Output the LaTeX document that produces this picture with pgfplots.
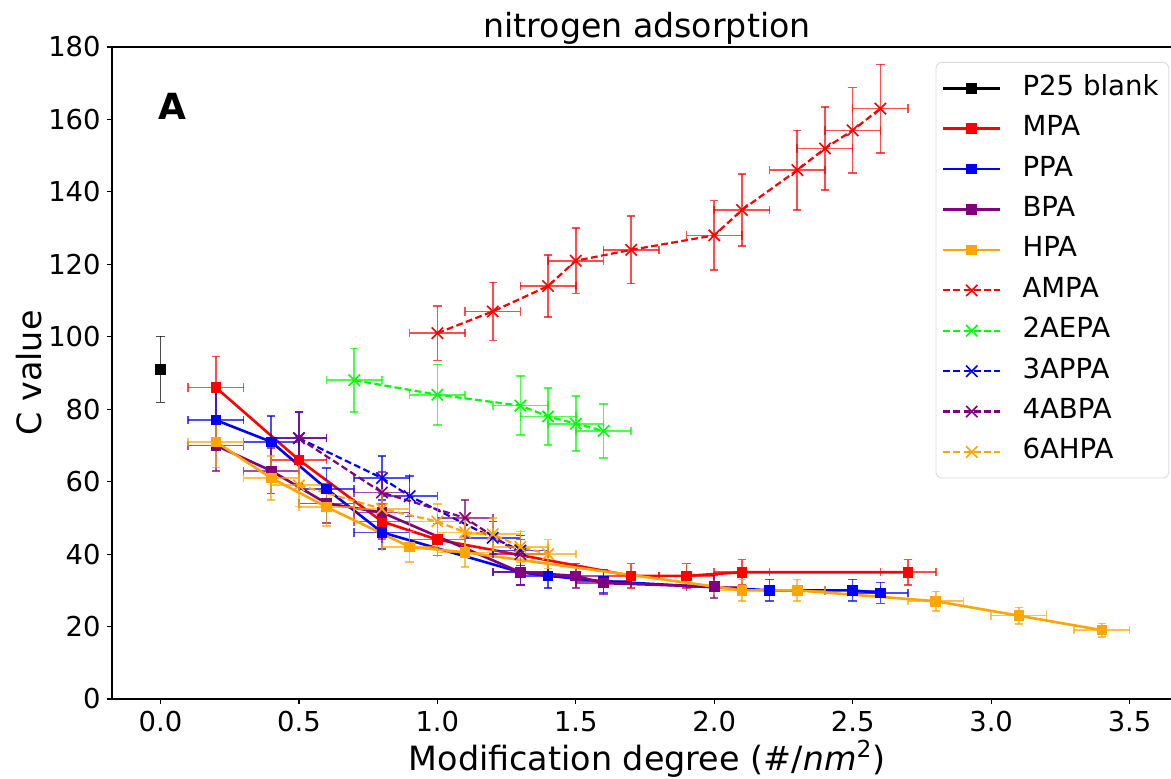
\documentclass[border=0pt]{standalone}
\usepackage{fontspec}
\setmainfont{DejaVu Sans}
\usepackage{pgfplots}
\pgfplotsset{compat=1.18}
\usepackage{pgfplotstable}

\definecolor{mplorange}{RGB}{255,165,0}
\definecolor{mplpurple}{RGB}{128,0,128}
\definecolor{mplgreen}{RGB}{0,255,0}

\pgfplotstableread{
x y ex ey
0 91 0 9.1
}\pblank
\pgfplotstableread{
x y ex ey
0.2 86 0.1 8.6
0.5 66 0.1 6.6
0.8 49 0.1 4.9
1.0 44 0.1 4.4
1.7 34 0.1 3.4
1.9 34 0.1 3.4
2.1 35 0.1 3.5
2.7 35 0.1 3.5
}\mpa
\pgfplotstableread{
x y ex ey
0.2 77 0.1 7.7
0.4 71 0.1 7.1
0.6 58 0.1 5.8
0.8 46 0.1 4.6
1.3 35 0.1 3.5
1.4 34 0.1 3.4
1.6 32.5 0.1 3.25
2.2 30 0.1 3.0
2.5 30 0.1 3.0
2.6 29.3 0.1 2.9
}\ppa
\pgfplotstableread{
x y ex ey
0.2 70 0.1 7.0
0.4 63 0.1 6.3
0.6 54 0.1 5.4
0.8 51.5 0.1 5.2
1.3 35 0.1 3.5
1.5 34 0.1 3.4
1.6 32 0.1 3.2
2.0 31 0.1 3.1
}\bpa
\pgfplotstableread{
x y ex ey
0.2 71 0.1 7.1
0.4 61 0.1 6.1
0.6 53 0.1 5.3
0.9 42 0.1 4.2
1.1 40.5 0.1 4.0
2.1 30 0.1 3.0
2.3 30 0.1 3.0
2.8 27 0.1 2.7
3.1 23 0.1 2.3
3.4 19 0.1 1.9
}\hpa
\pgfplotstableread{
x y ex ey
1.0 101 0.1 7.5
1.2 107 0.1 8.0
1.4 114 0.1 8.5
1.5 121 0.1 9.0
1.7 124 0.1 9.3
2.0 128 0.1 9.6
2.1 135 0.1 10.0
2.3 146 0.1 11.0
2.4 152 0.1 11.4
2.5 157 0.1 11.8
2.6 163 0.1 12.2
}\ampa
\pgfplotstableread{
x y ex ey
0.7 88 0.1 8.8
1.0 84 0.1 8.4
1.3 81 0.1 8.1
1.4 78 0.1 7.8
1.5 76 0.1 7.6
1.6 74 0.1 7.4
}\aepa
\pgfplotstableread{
x y ex ey
0.5 72 0.1 7.2
0.8 61 0.1 6.1
0.9 56 0.1 5.6
1.2 44.5 0.1 4.5
1.3 41 0.1 4.1
}\appa
\pgfplotstableread{
x y ex ey
0.5 72 0.1 7.2
0.8 57 0.1 5.7
1.1 50 0.1 5.0
1.3 40 0.1 4.0
}\abpa
\pgfplotstableread{
x y ex ey
0.5 59 0.1 5.9
0.8 52.5 0.1 5.3
1.0 49 0.1 4.9
1.1 46 0.1 4.6
1.2 45.5 0.1 4.5
1.3 42 0.1 4.2
1.4 40 0.1 4.0
}\ahpa

\pgfplotsset{
  limg/.style={legend image code/.code={%
    \draw[mark repeat=2,mark phase=2] plot coordinates {(0pt,0pt)(14.25pt,0pt)(28.5pt,0pt)};}},
  sqr/.style={color=#1, line width=1.3pt, mark=square*, mark size=2.4pt,
    mark options={solid, line width=0.5pt}, limg,
    error bars/.cd, x dir=both, x explicit, y dir=both, y explicit,
    error bar style={line width=0.8pt, opacity=0.7, solid},
    error mark options={rotate=90, line width=0.8pt, mark size=2.1pt, solid, opacity=0.7}},
  crs/.style={color=#1, line width=1.1pt, dash pattern=on 3.4pt off 1.7pt,
    mark=x, mark size=4pt, mark options={solid, line width=0.8pt}, limg,
    error bars/.cd, x dir=both, x explicit, y dir=both, y explicit,
    error bar style={line width=0.8pt, opacity=0.7, solid},
    error mark options={rotate=90, line width=0.8pt, mark size=2.1pt, solid, opacity=0.7}},
}

\begin{document}
\begin{tikzpicture}
\begin{axis}[
  scale only axis, width=533pt, height=326pt,
  xmin=-0.175, xmax=3.675, ymin=0, ymax=180,
  xtick={0,0.5,1,1.5,2,2.5,3,3.5}, ytick={0,20,...,180},
  xtick pos=bottom, ytick pos=left,
  tick align=outside, major tick length=2.5pt,
  tick style={black, line width=0.6pt},
  axis line style={line width=0.6pt},
  /pgf/number format/assume math mode=true,
  ticklabel style={font=\fontsize{13.7}{16}\selectfont},
  xticklabel style={/pgf/number format/.cd, fixed, fixed zerofill, precision=1},
  yticklabel style={inner sep=3pt},
  title={nitrogen adsorption},
  title style={font=\fontsize{16.6}{19}\selectfont, at={(axis description cs:0.502,1.0153)}, anchor=base, yshift=-6pt},
  xlabel={Modification degree (\#/\textit{nm}\textsuperscript{2})},
  xlabel style={font=\fontsize{16.7}{19}\selectfont, at={(axis description cs:0.502,-0.1089)}, anchor=base},
  ylabel={C value},
  ylabel style={font=\fontsize{16.7}{19}\selectfont, at={(axis description cs:-0.0657,0.5)}, anchor=base},
  legend cell align=left,
  legend style={at={(axis description cs:0.9916,0.977)}, anchor=north east,
    font=\fontsize{13.8}{16}\selectfont,
    draw=black!15, rounded corners=3pt, fill=white,
    inner xsep=3pt, inner ysep=4.5pt, row sep=3.2pt,
    nodes={inner sep=2pt, text height=10pt, text depth=3pt},
    /tikz/every odd column/.append style={column sep=8.5pt}},
]
\addplot[sqr=black, /pgfplots/error bars/x dir=none] table[x=x,y=y,y error=ey]{\pblank};
\addlegendentry{P25 blank}
\addplot[sqr=red] table[x=x,y=y,x error=ex,y error=ey]{\mpa};
\addlegendentry{MPA}
\addplot[sqr=blue] table[x=x,y=y,x error=ex,y error=ey]{\ppa};
\addlegendentry{PPA}
\addplot[sqr=mplpurple] table[x=x,y=y,x error=ex,y error=ey]{\bpa};
\addlegendentry{BPA}
\addplot[sqr=mplorange] table[x=x,y=y,x error=ex,y error=ey]{\hpa};
\addlegendentry{HPA}
\addplot[crs=red] table[x=x,y=y,x error=ex,y error=ey]{\ampa};
\addlegendentry{AMPA}
\addplot[crs=mplgreen] table[x=x,y=y,x error=ex,y error=ey]{\aepa};
\addlegendentry{2AEPA}
\addplot[crs=blue] table[x=x,y=y,x error=ex,y error=ey]{\appa};
\addlegendentry{3APPA}
\addplot[crs=mplpurple] table[x=x,y=y,x error=ex,y error=ey]{\abpa};
\addlegendentry{4ABPA}
\addplot[crs=mplorange] table[x=x,y=y,x error=ex,y error=ey]{\ahpa};
\addlegendentry{6AHPA}
\node[font=\fontsize{18}{20}\selectfont\bfseries] at (axis cs:0.0415,163.7) {A};
\end{axis}
\pgfresetboundingbox
\useasboundingbox (-56pt,-39.5pt) rectangle (529.5pt,349.5pt);
\end{tikzpicture}
\end{document}
